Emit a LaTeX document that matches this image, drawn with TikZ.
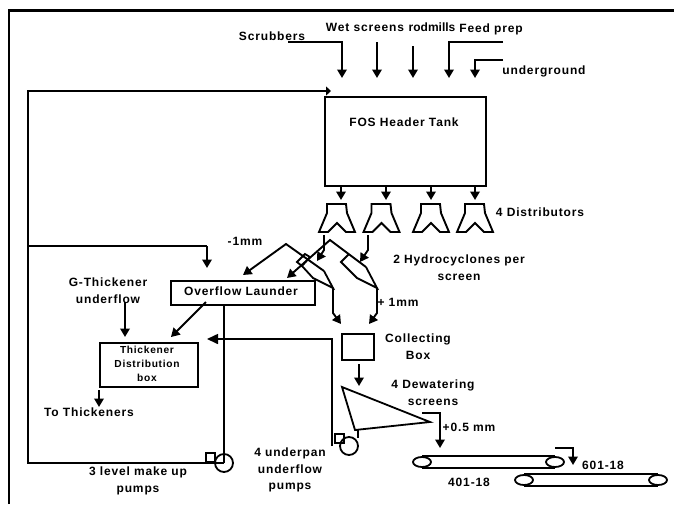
\documentclass[tikz,border=0pt]{standalone}
\usepackage{fontspec}
\setmainfont{Liberation Sans}[LetterSpace=7]
\newfontfamily\tightfont{Liberation Sans}
\usepackage{tikz}
\usetikzlibrary{arrows.meta,positioning,shapes.geometric}

\begin{document}
\begin{tikzpicture}[
  x=1pt,y=-1pt,
  line width=1.8pt,
  lbl/.style={align=center,inner sep=0pt,font=\fontsize{12}{16.6}\selectfont\bfseries},
  box/.style={draw,inner sep=0pt,anchor=north west,line width=1.9pt},
  arr/.style={-{Triangle[length=8.5pt,width=9.5pt]},line width=1.9pt},
  big arr/.style={-{Triangle[length=11pt,width=10pt]},line width=1.6pt},
  thin arr/.style={-{Triangle[length=5pt,width=9pt]},line width=1.6pt},
  pumpc/.style={draw,circle,minimum size=18pt,inner sep=0pt},
  pumps/.style={draw,minimum size=9pt,inner sep=0pt},
  roller/.style={draw,ellipse,fill=white,minimum width=18pt,minimum height=10pt,inner sep=0pt}
]
\useasboundingbox (0,0) rectangle (674,504);
\draw[line width=2.4pt] (9,504)--(9,10.5)--(674,10.5);

% header tank and feeds
\node[box,minimum width=161pt,minimum height=89pt] (tank) at (324,96) {};
\node[lbl] at (404,122) {FOS Header Tank};
\node[lbl] (scrub) at (272,36) {Scrubbers};
\node[lbl] (wet) at (365,27) {Wet screens};
\node[lbl,font=\fontsize{12}{16.6}\tightfont\bfseries] (rod) at (432,27) {rodmills};
\node[lbl] (feed) at (491,29) {Feed prep};
\node[lbl] (under) at (544,71) {underground};
\coordinate (s1) at (288,42); \coordinate (s2) at (342,78);
\coordinate (w1) at (377,42); \coordinate (w2) at (377,78);
\coordinate (r1) at (413,46); \coordinate (r2) at (413,78);
\coordinate (f1) at (503,42); \coordinate (f2) at (449,78);
\coordinate (u1) at (503,60); \coordinate (u2) at (475,78);
\draw[arr] (s1)-|(s2);
\draw[arr] (w1)--(w2);
\draw[arr] (r1)--(r2);
\draw[arr] (f1)-|(f2);
\draw[arr] (u1)-|(u2);

% distributors
\foreach \i/\cx/\ax in {1/337/341,2/381.5/386,3/431/431,4/475/475}{
  \draw[line width=1.9pt] (\cx-10,204)--(\cx-10,213)--(\cx-18,232)--(\cx-9,232)--(\cx,223)
    --(\cx+9,232)--(\cx+18,232)--(\cx+10,213)--(\cx+9,204)--cycle;
  \coordinate (d\i) at (\ax,200);
  \coordinate (t\i) at (\ax,185);
  \draw[arr] (t\i)--(d\i);
}
\node[lbl] (dist) at (540,212) {4 Distributors};

% hydrocyclones
\draw (297,262)--(305,254)--(310,257)--(302,266)--cycle;
\draw (302,266)--(313,278)--(333,288)--(324,271);
\draw (349,254)--(341,262)--(357,278)--(377,288)--(366,267);
\coordinate (ov1) at (286,244); \coordinate (ov2) at (330,240);
\coordinate (cy1) at (324,271); \coordinate (cy2) at (366,267);
\draw[arr] (cy1)--(ov1)--(243,275);
\draw[arr] (cy2)--(ov2)--(287,278);
\coordinate (in1) at (324,235); \coordinate (in2) at (368,235);
\draw[arr] (in1)--(324,250)--(317,261);
\draw[arr] (in2)--(368,250)--(360,262);
\coordinate (uf1) at (333,288); \coordinate (uf2) at (377,288);
\draw[arr] (uf1)--(333,313)--(341,324);
\draw[arr] (uf2)--(377,313)--(369,324);
\node[lbl] (minus) at (245,241) {-1mm};
\node[lbl] (plus) at (398,302) {+ 1mm};
\node[lbl] (hyd) at (459,267.5) {2 Hydrocyclones per\\screen};

% launder and thickener box
\node[box,minimum width=144pt,minimum height=24pt] (launder) at (170,280) {};
\node[lbl] at (241,291) {Overflow Launder};
\node[box,minimum width=98pt,minimum height=44pt] (thick) at (99,342) {};
\node[lbl,font=\fontsize{10.2}{14}\selectfont\bfseries] at (147,364) {Thickener\\Distribution\\box};
\node[lbl] (g) at (108,291) {G-Thickener\\underflow};
\node[lbl] (tothick) at (89,412) {To Thickeners};
\coordinate (g1) at (125,302); \coordinate (g2) at (125,337);
\draw[arr] (g1)--(g2);
\coordinate (l1) at (206,302); \coordinate (l2) at (171,337);
\draw[arr] (l1)--(l2);
\coordinate (o1) at (99,390); \coordinate (o2) at (99,407);
\draw[arr] (o1)--(o2);

% make up pumps
\node[pumpc] (pump1) at (224,463) {};
\node[pumps,anchor=south east] (sq1) at (216,463) {};
\node[lbl] (mk) at (138,481) {3 level make up\\pumps};
\coordinate (c1) at (28,91); \coordinate (c2) at (331,91);
\coordinate (c3) at (28,246); \coordinate (c4) at (207,268);
\draw[thin arr] (pump1.center)--(28,463)--(c1)--(c2);
\draw (c3)--(207,246);
\draw[arr] (207,246)--(c4);
\draw (224,304)--(pump1.center);

% collecting box and dewatering screen
\node[box,minimum width=32pt,minimum height=26pt] (coll) at (341,333) {};
\node[lbl] (colllbl) at (418,347) {Collecting\\Box};
\coordinate (sc1) at (342,387); \coordinate (sc2) at (430,422); \coordinate (sc3) at (355,430);
\draw (sc1)--(sc2)--(sc3)--cycle;
\coordinate (a1) at (359,364); \coordinate (a2) at (359,386);
\draw[arr] (a1)--(a2);
\node[lbl] (dew) at (433,393) {4 Dewatering\\screens};
\node[pumpc] (pump2) at (349,446) {};
\node[pumps,anchor=south east] (sq2) at (345,444) {};
\draw (sc3)--(358,430)--(358,438);
\coordinate (b1) at (332,446); \coordinate (b2) at (207,339);
\draw[big arr] (b1)--(332,339)--(b2);
\node[lbl] (upan) at (290,470) {4 underpan\\underflow\\pumps};

% belts
\coordinate (p1) at (422,413); \coordinate (p2) at (440,448);
\draw[arr] (p1)-|(p2);
\node[lbl] (half) at (469,427) {+0.5 mm};
\node[roller] (b1l) at (422,462) {};
\node[roller] (b1r) at (555,462) {};
\draw (b1l.north)--(b1r.north) (b1l.south)--(b1r.south);
\node[roller] (b2l) at (524,480) {};
\node[roller] (b2r) at (658,480) {};
\draw (b2l.north)--(b2r.north) (b2l.south)--(b2r.south);
\node[lbl] (n401) at (469,482) {401-18};
\node[lbl] (n601) at (603,465) {601-18};
\coordinate (q1) at (555,448); \coordinate (q2) at (573,465);
\draw[arr] (q1)-|(q2);
\end{tikzpicture}
\end{document}
